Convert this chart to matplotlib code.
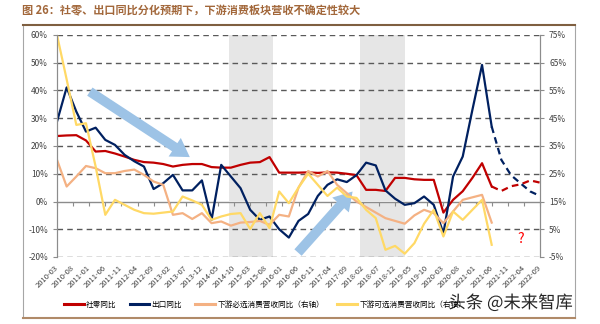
import numpy as np
import matplotlib
matplotlib.use('Agg')
import matplotlib.pyplot as plt
import matplotlib.patheffects as pe
from matplotlib.lines import Line2D
from matplotlib.transforms import ScaledTranslation

plt.rcParams['font.family'] = ['Noto Sans CJK SC', 'DejaVu Sans']
plt.rcParams['axes.unicode_minus'] = False

# quarterly points, x = months counted from 2010-03
months = np.arange(0, 151, 3)
n_actual = 46  # last actual quarter, later points are forecasts (dashed)

retail = [23.6, 23.8, 23.9, 22.0, 18.0, 18.2, 17.3, 16.2, 15.0, 14.2,
          14.0, 13.5, 12.6, 13.2, 13.5, 13.5, 12.4, 12.2, 12.2, 13.2,
          14.0, 14.2, 16.0, 10.4, 10.4, 10.4, 10.5, 10.3, 10.5, 10.4,
          10.0, 9.5, 4.2, 4.2, 3.8, 8.5, 8.5, 8.0, 7.8, 7.8,
          -4.0, 0.6, 3.7, 8.5, 13.8, 5.4, 3.8, 5.5, 6.2, 7.6, 6.8]
export = [28.8, 41.1, 32.4, 25.2, 26.6, 22.2, 20.4, 16.8, 14.5, 12.6,
          4.5, 6.6, 9.6, 4.0, 4.0, 7.6, -6.6, 13.2, 9.0, 4.8,
          -3.0, -6.6, -5.4, -10.0, -13.0, -7.0, -4.5, 2.0, 6.0, 8.0,
          7.0, 9.5, 14.0, 13.0, 4.0, 1.0, -1.2, -0.6, 1.8, -1.2,
          -11.5, 9.0, 16.2, 33.0, 49.2, 27.0, 15.0, 9.5, 6.5, 3.6, 2.0]
# right axis
staple = [30.0, 20.4, 24.0, 27.8, 27.0, 25.2, 25.2, 26.0, 26.5, 24.6,
          22.2, 21.0, 10.2, 10.8, 8.7, 10.8, 7.2, 7.8, 6.3, 7.4,
          7.6, 8.0, 6.6, 10.2, 9.6, 20.0, 26.0, 24.0, 26.0, 21.0,
          18.0, 15.0, 13.0, 11.0, 9.0, 8.0, 7.0, 10.0, 12.0, 10.8,
          7.2, 11.4, 15.6, 16.5, 17.4, 7.4]
discretionary = [75.0, 59.0, 42.6, 43.2, 27.6, 10.2, 15.6, 13.8, 12.0, 10.8,
                 10.6, 11.0, 11.4, 16.8, 15.4, 13.8, 8.4, 9.6, 10.5, 10.8,
                 5.1, 10.8, 5.4, 18.6, 14.4, 20.0, 25.0, 21.0, 17.0, 20.0,
                 16.8, 16.3, 12.0, 9.0, -2.4, -1.0, -3.8, 0.0, 7.0, 12.0,
                 2.4, 11.4, 8.4, 12.0, 15.6, -0.6]

tick_months = np.arange(0, 151, 5)
tick_labels = []
for m in tick_months:
    y, mo = divmod(2 + m, 12)
    tick_labels.append(f"{2010 + y}-{mo + 1:02d}")

shade_spans = [(53.5, 67.0), (94.0, 108.0)]

left_ticks = np.arange(-20, 61, 10)
right_ticks = np.arange(-5, 76, 10)

c_red = '#c00000'
c_navy = '#002060'
c_orange = '#f4b183'
c_yellow = '#ffd966'
c_arrow = '#9dc3e6'
gray = '#8c8c8c'

fig = plt.figure(figsize=(6, 3.24), dpi=100)
ax = fig.add_axes([57 / 600, 1 - 257 / 324, 483 / 600, 222 / 324])
ax2 = ax.twinx()

for a, b in shade_spans:
    ax.axvspan(a, b, color='#e6e6e6', zorder=0, lw=0)

for t in left_ticks:
    if t != 0:
        ax.axhline(t, color='#595959', lw=1.0, ls=(0, (4, 3)), zorder=1)

ax.plot(months[:n_actual], retail[:n_actual], color=c_red, lw=1.6, zorder=4)
ax.plot(months[n_actual - 1:], retail[n_actual - 1:], color=c_red, lw=1.6,
        ls=(0, (3, 2)), zorder=4)
ax.plot(months[:n_actual], export[:n_actual], color=c_navy, lw=1.6, zorder=4)
ax.plot(months[n_actual - 1:], export[n_actual - 1:], color=c_navy, lw=1.6,
        ls=(0, (3, 2)), zorder=4)

ax2.plot(months[:len(staple)], staple, color=c_orange, lw=1.6)
ax2.plot(months[:len(discretionary)], discretionary, color=c_yellow, lw=1.6)

ax.set_xlim(0, 150)
ax.set_ylim(-20, 60)
ax2.set_ylim(-5, 75)

ax.set_yticks(left_ticks)
ax.set_yticklabels([f"{t}%" for t in left_ticks])
ax2.set_yticks(right_ticks)
ax2.set_yticklabels([f"{t}%" for t in right_ticks])

ax.set_xticks(tick_months)
ax.set_xticklabels(tick_labels, rotation=45, ha='right', va='center',
                   rotation_mode='anchor', fontsize=5.5, color='#404040')
offset = ScaledTranslation(-0.19, 0, fig.dpi_scale_trans)
for lbl in ax.get_xticklabels():
    lbl.set_transform(lbl.get_transform() + offset)
ax.tick_params(axis='x', length=0, pad=7)

for a in (ax, ax2):
    a.spines['top'].set_visible(False)
    a.spines['bottom'].set_visible(False)
    a.spines['left'].set_color(gray)
    a.spines['right'].set_color(gray)
    a.tick_params(axis='y', labelsize=6, colors='#404040', length=3, width=0.8)
    a.tick_params(axis='y', color=gray)

# category axis crossing at 0%
sec = ax.secondary_xaxis(0.25)
sec.set_xticks(tick_months)
sec.set_xticklabels([])
sec.tick_params(axis='x', direction='out', length=3, color=gray, width=0.8)
sec.spines['bottom'].set_color(gray)
sec.spines['bottom'].set_linewidth(1.0)

# trend arrows
arrow_style = 'simple,head_width=1.6,head_length=1.3,tail_width=0.7'
ax.annotate('', xy=(0.275, 0.45), xytext=(0.068, 0.745), xycoords='axes fraction',
            arrowprops=dict(arrowstyle=arrow_style, color=c_arrow, lw=0,
                            mutation_scale=10, shrinkA=0, shrinkB=0), zorder=6)
ax.annotate('', xy=(0.612, 0.295), xytext=(0.499, 0.02), xycoords='axes fraction',
            arrowprops=dict(arrowstyle=arrow_style, color=c_arrow, lw=0,
                            mutation_scale=10, shrinkA=0, shrinkB=0), zorder=6)
ax.text(0.961, 0.08, '?', transform=ax.transAxes, color='#ff0000',
        fontsize=10, ha='center', va='center')

# legend
handles = [Line2D([], [], color=c_red, lw=2.2),
           Line2D([], [], color=c_navy, lw=2.2),
           Line2D([], [], color=c_orange, lw=2.2),
           Line2D([], [], color=c_yellow, lw=2.2)]
names = ['社零同比', '出口同比', '下游必选消费营收同比（右轴）', '下游可选消费营收同比（右轴）']
fig.legend(handles, names, loc='center left', bbox_to_anchor=(0.095, 0.06),
           ncol=4, frameon=False, fontsize=5.5, handlelength=2.6,
           handletextpad=0.3, columnspacing=1.7)

# frame and title
fig.add_artist(Line2D([0.038, 0.038], [0.018, 0.923], color='#a6a6a6', lw=0.8))
fig.add_artist(Line2D([0.958, 0.958], [0.018, 0.923], color='#a6a6a6', lw=0.8))
fig.add_artist(Line2D([0.038, 0.958], [0.923, 0.923], color='#7f5f40', lw=1.5))
fig.add_artist(Line2D([0.038, 0.958], [0.018, 0.018], color='#b08a68', lw=1.5))
fig.text(22 / 600, 1 - 11 / 324, '图 26：社零、出口同比分化预期下，下游消费板块营收不确定性较大',
         fontsize=8, weight='bold', color='#a2673a', va='center', ha='left')

fig.text(0.955, 0.065, '头条 @未来智库', fontsize=12.5, color='#262626',
         ha='right', va='center',
         path_effects=[pe.withStroke(linewidth=2.5, foreground='white')])

fig.savefig('out.png', dpi=100)
